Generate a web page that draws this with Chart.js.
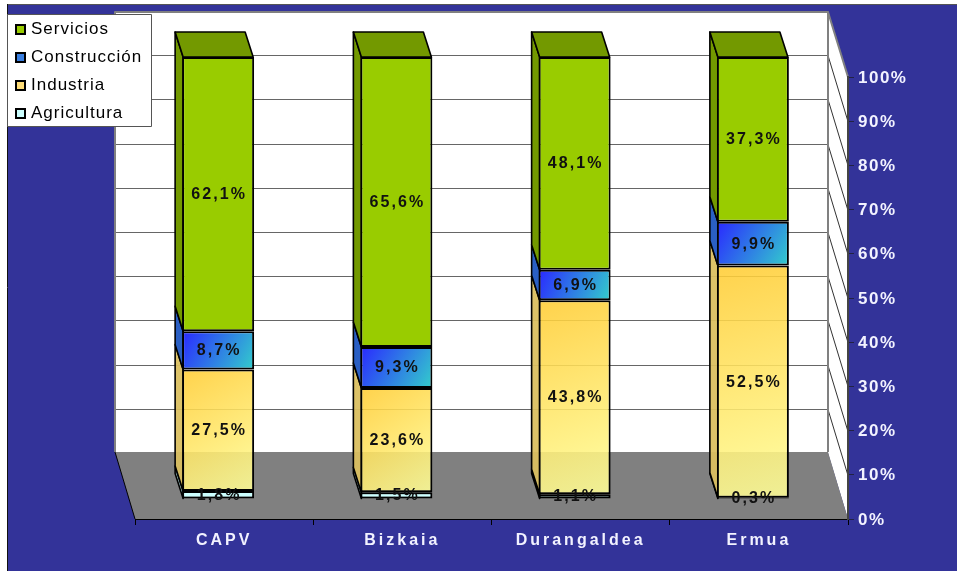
<!DOCTYPE html>
<html>
<head>
<meta charset="utf-8">
<style>
  html, body { margin: 0; padding: 0; background: #fff; }
  #wrap { width: 957px; height: 571px; }
</style>
<script src="https://cdn.jsdelivr.net/npm/chart.js@4"></script>
</head>
<body>
<div id="wrap"><canvas id="myChart" width="957" height="571"></canvas></div>
<script>
const categories = ["CAPV", "Bizkaia", "Durangaldea", "Ermua"];
const agricultura = [1.8, 1.5, 1.1, 0.3];
const industria = [27.5, 23.6, 43.8, 52.5];
const construccion = [8.7, 9.3, 6.9, 9.9];
const servicios = [62.1, 65.6, 48.1, 37.3];
const yTicks = [0, 10, 20, 30, 40, 50, 60, 70, 80, 90, 100];

// 100% stacked, like the original sheet
const totals = categories.map((c, i) => agricultura[i] + industria[i] + construccion[i] + servicios[i]);
const toPct = (arr) => arr.map((v, i) => (v / totals[i]) * 100);

// offsets of the 3D box
const WALL_DX = -20, WALL_DY = -66;   // front plane -> back wall
const BAR_DX = -6, BAR_DY = -20;      // front plane -> bar front face
const SIDE_DX = -8, SIDE_DY = -25;    // bar front face -> bar back face

const ctx = document.getElementById("myChart");

function stackEdges(chart, dsIndex, i) {
  let low = 0;
  for (let d = 0; d < dsIndex; d++) low += chart.data.datasets[d].data[i];
  const high = low + chart.data.datasets[dsIndex].data[i];
  return { low, high };
}

function diagonalFill(from, to) {
  return (c) => {
    const chart = c.chart;
    if (!chart.scales.y || c.dataIndex === undefined) return from;
    const e = stackEdges(chart, c.datasetIndex, c.dataIndex);
    const cx = chart.scales.x.getPixelForValue(c.dataIndex);
    const y0 = chart.scales.y.getPixelForValue(e.high);
    const y1 = chart.scales.y.getPixelForValue(e.low);
    if (![cx, y0, y1].every(Number.isFinite)) return from;
    const g = chart.ctx.createLinearGradient(cx - 35, y0, cx + 35, y1);
    g.addColorStop(0, from);
    g.addColorStop(1, to);
    return g;
  };
}

function line(c, x1, y1, x2, y2) {
  c.beginPath();
  c.moveTo(x1, y1);
  c.lineTo(x2, y2);
  c.stroke();
}

function poly(c, pts, fill, stroke, width) {
  c.beginPath();
  pts.forEach((p, i) => (i ? c.lineTo(p[0], p[1]) : c.moveTo(p[0], p[1])));
  c.closePath();
  if (fill) { c.fillStyle = fill; c.fill(); }
  if (stroke) { c.strokeStyle = stroke; c.lineWidth = width; c.stroke(); }
}

const box3d = {
  id: "box3d",
  beforeDraw(chart) {
    const c = chart.ctx;
    const a = chart.chartArea;
    const y = chart.scales.y;

    // per-axis letter spacing for the tick labels
    if (!chart.scales.x._spaced) {
      [["x", "3px", 0], ["y", "1.5px", 1]].forEach(([id, sp, dy]) => {
        const s = chart.scales[id];
        const orig = s.drawLabels;
        s.drawLabels = function (area) {
          c.save();
          c.letterSpacing = sp;
          c.translate(0, dy);
          orig.call(this, area);
          c.restore();
          c.letterSpacing = "0px";
        };
        s._spaced = true;
      });
    }

    c.save();
    // outer panel
    c.fillStyle = "#333399";
    c.fillRect(8, 5, chart.width - 8, chart.height - 5);
    c.strokeStyle = "#555555";
    c.lineWidth = 1;
    line(c, 7, 4.5, chart.width, 4.5);
    c.strokeStyle = "#111111";
    line(c, 7.5, 4, 7.5, chart.height);

    const bl = a.left + WALL_DX, br = a.right + WALL_DX;
    const bt = a.top + WALL_DY, bb = a.bottom + WALL_DY;

    // back wall, side wall, floor
    poly(c, [[bl, bt], [br, bt], [br, bb], [bl, bb]], "#ffffff");
    poly(c, [[br, bt], [a.right, a.top], [a.right, a.bottom], [br, bb]], "#ffffff");
    poly(c, [[bl, bb - 1], [br, bb - 1], [a.right, a.bottom], [a.left, a.bottom]], "#808080");

    // grid on wall and side wall
    c.lineWidth = 1.2;
    yTicks.forEach((t) => {
      if (t === 0 || t === 100) return;
      const py = Math.round(y.getPixelForValue(t)) + 0.5;
      c.strokeStyle = "#666666";
      line(c, bl, py + WALL_DY, br, py + WALL_DY);
      c.strokeStyle = "#333333";
      c.lineWidth = 1;
      line(c, br, py + WALL_DY, a.right, py);
      c.lineWidth = 1.2;
    });

    // wall outline
    c.strokeStyle = "#808080";
    c.lineWidth = 2;
    c.lineJoin = "round";
    c.beginPath();
    c.moveTo(bl, bb - 1);
    c.lineTo(bl, bt + 1);
    c.lineTo(br, bt + 1);
    c.lineTo(a.right, a.top);
    c.moveTo(br, bt + 1);
    c.lineTo(br, bb - 1);
    c.stroke();
    c.strokeStyle = "#000000";
    c.lineWidth = 1;
    line(c, bl, bb - 1, a.left, a.bottom);
    c.restore();
  },
  beforeDatasetsDraw(chart) {
    const c = chart.ctx;
    c.save();
    c.translate(BAR_DX, BAR_DY);
    c.lineJoin = "round";
    // left faces and top faces of the bars
    chart.data.datasets.forEach((ds, d) => {
      chart.getDatasetMeta(d).data.forEach((bar) => {
        const p = bar.getProps(["x", "y", "base", "width"], true);
        const x0 = p.x - p.width / 2 + 1, x1 = p.x + p.width / 2 - 1;
        poly(c, [[x0, p.base], [x0, p.y], [x0 + SIDE_DX, p.y + SIDE_DY], [x0 + SIDE_DX, p.base + SIDE_DY]],
          ds.sideColor, "#000000", 1.6);
        if (d === chart.data.datasets.length - 1) {
          poly(c, [[x0, p.y], [x1, p.y], [x1 + SIDE_DX, p.y + SIDE_DY], [x0 + SIDE_DX, p.y + SIDE_DY]],
            ds.sideColor, "#000000", 1.6);
        }
      });
    });
  },
  afterDatasetsDraw(chart) {
    const c = chart.ctx;
    // value labels, still in the shifted bar plane
    c.font = "bold 16px 'Liberation Sans'";
    c.letterSpacing = "2.1px";
    c.textAlign = "center";
    c.textBaseline = "middle";
    c.fillStyle = "#111111";
    chart.data.datasets.forEach((ds, d) => {
      chart.getDatasetMeta(d).data.forEach((bar, i) => {
        const p = bar.getProps(["x", "y", "base"], true);
        c.fillText(ds.rawValues[i].toFixed(1).replace(".", ",") + "%", p.x + 1, (p.y + p.base) / 2 + 0.5);
      });
    });
    c.letterSpacing = "0px";
    c.restore();

    // legend, top entry is the last series
    c.save();
    poly(c, [[7.5, 14.5], [151.5, 14.5], [151.5, 126.5], [7.5, 126.5]], "#ffffff", "#555555", 1);
    c.font = "17px 'Liberation Sans'";
    c.letterSpacing = "1px";
    c.textAlign = "left";
    c.textBaseline = "middle";
    const n = chart.data.datasets.length;
    chart.data.datasets.forEach((ds, d) => {
      const ly = 29 + (n - 1 - d) * 28;
      c.fillStyle = ds.legendColor;
      c.fillRect(15, ly - 5, 11, 11);
      c.strokeStyle = "#000000";
      c.lineWidth = 2;
      c.strokeRect(16, ly - 4, 9, 9);
      c.fillStyle = "#000000";
      c.fillText(ds.label, 31, ly);
    });
    c.restore();
  },
};

new Chart(ctx, {
  type: "bar",
  data: {
    labels: categories,
    datasets: [
      {
        label: "Agricultura",
        data: toPct(agricultura),
        rawValues: agricultura,
        backgroundColor: "#ccffff",
        sideColor: "#a3cccc",
        legendColor: "#ccffff",
      },
      {
        label: "Industria",
        data: toPct(industria),
        rawValues: industria,
        backgroundColor: diagonalFill("rgba(255,204,51,0.88)", "rgba(255,255,153,0.88)"),
        sideColor: "rgba(218,190,95,0.94)",
        legendColor: "#ffdd77",
      },
      {
        label: "Construcción",
        data: toPct(construccion),
        rawValues: construccion,
        backgroundColor: diagonalFill("#2a2aff", "#33cccc"),
        sideColor: "#2a5fc4",
        legendColor: "#3a7fe0",
      },
      {
        label: "Servicios",
        data: toPct(servicios),
        rawValues: servicios,
        backgroundColor: "#99cc00",
        sideColor: "#739900",
        legendColor: "#99cc00",
      },
    ],
  },
  plugins: [box3d],
  options: {
    responsive: false,
    animation: false,
    layout: { padding: { left: 135, top: 77, right: 0, bottom: 0 } },
    datasets: {
      bar: {
        barPercentage: 0.404,
        categoryPercentage: 1,
        borderColor: "#000000",
        borderWidth: 2,
        borderSkipped: false,
      },
    },
    plugins: {
      legend: { display: false },
      tooltip: { enabled: false },
    },
    scales: {
      x: {
        stacked: true,
        afterFit: (s) => { s.height = 52; },
        grid: { drawOnChartArea: false, color: "#000000", tickLength: 6 },
        border: { color: "#000000", width: 1 },
        ticks: {
          color: "#f2f2ff",
          padding: 6,
          maxRotation: 0,
          font: { family: "'Liberation Sans'", size: 16, weight: "bold" },
        },
      },
      y: {
        stacked: true,
        position: "right",
        min: 0,
        max: 100,
        afterFit: (s) => { s.width = 109; },
        afterBuildTicks: (s) => { s.ticks = yTicks.map((v) => ({ value: v })); },
        grid: { drawOnChartArea: false, color: "#222244", tickLength: 6 },
        border: { color: "#444444", width: 2 },
        ticks: {
          color: "#f2f2ff",
          padding: 4,
          font: { family: "'Liberation Sans'", size: 17, weight: "bold" },
          callback: (v) => v + "%",
        },
      },
    },
  },
});
</script>
</body>
</html>
